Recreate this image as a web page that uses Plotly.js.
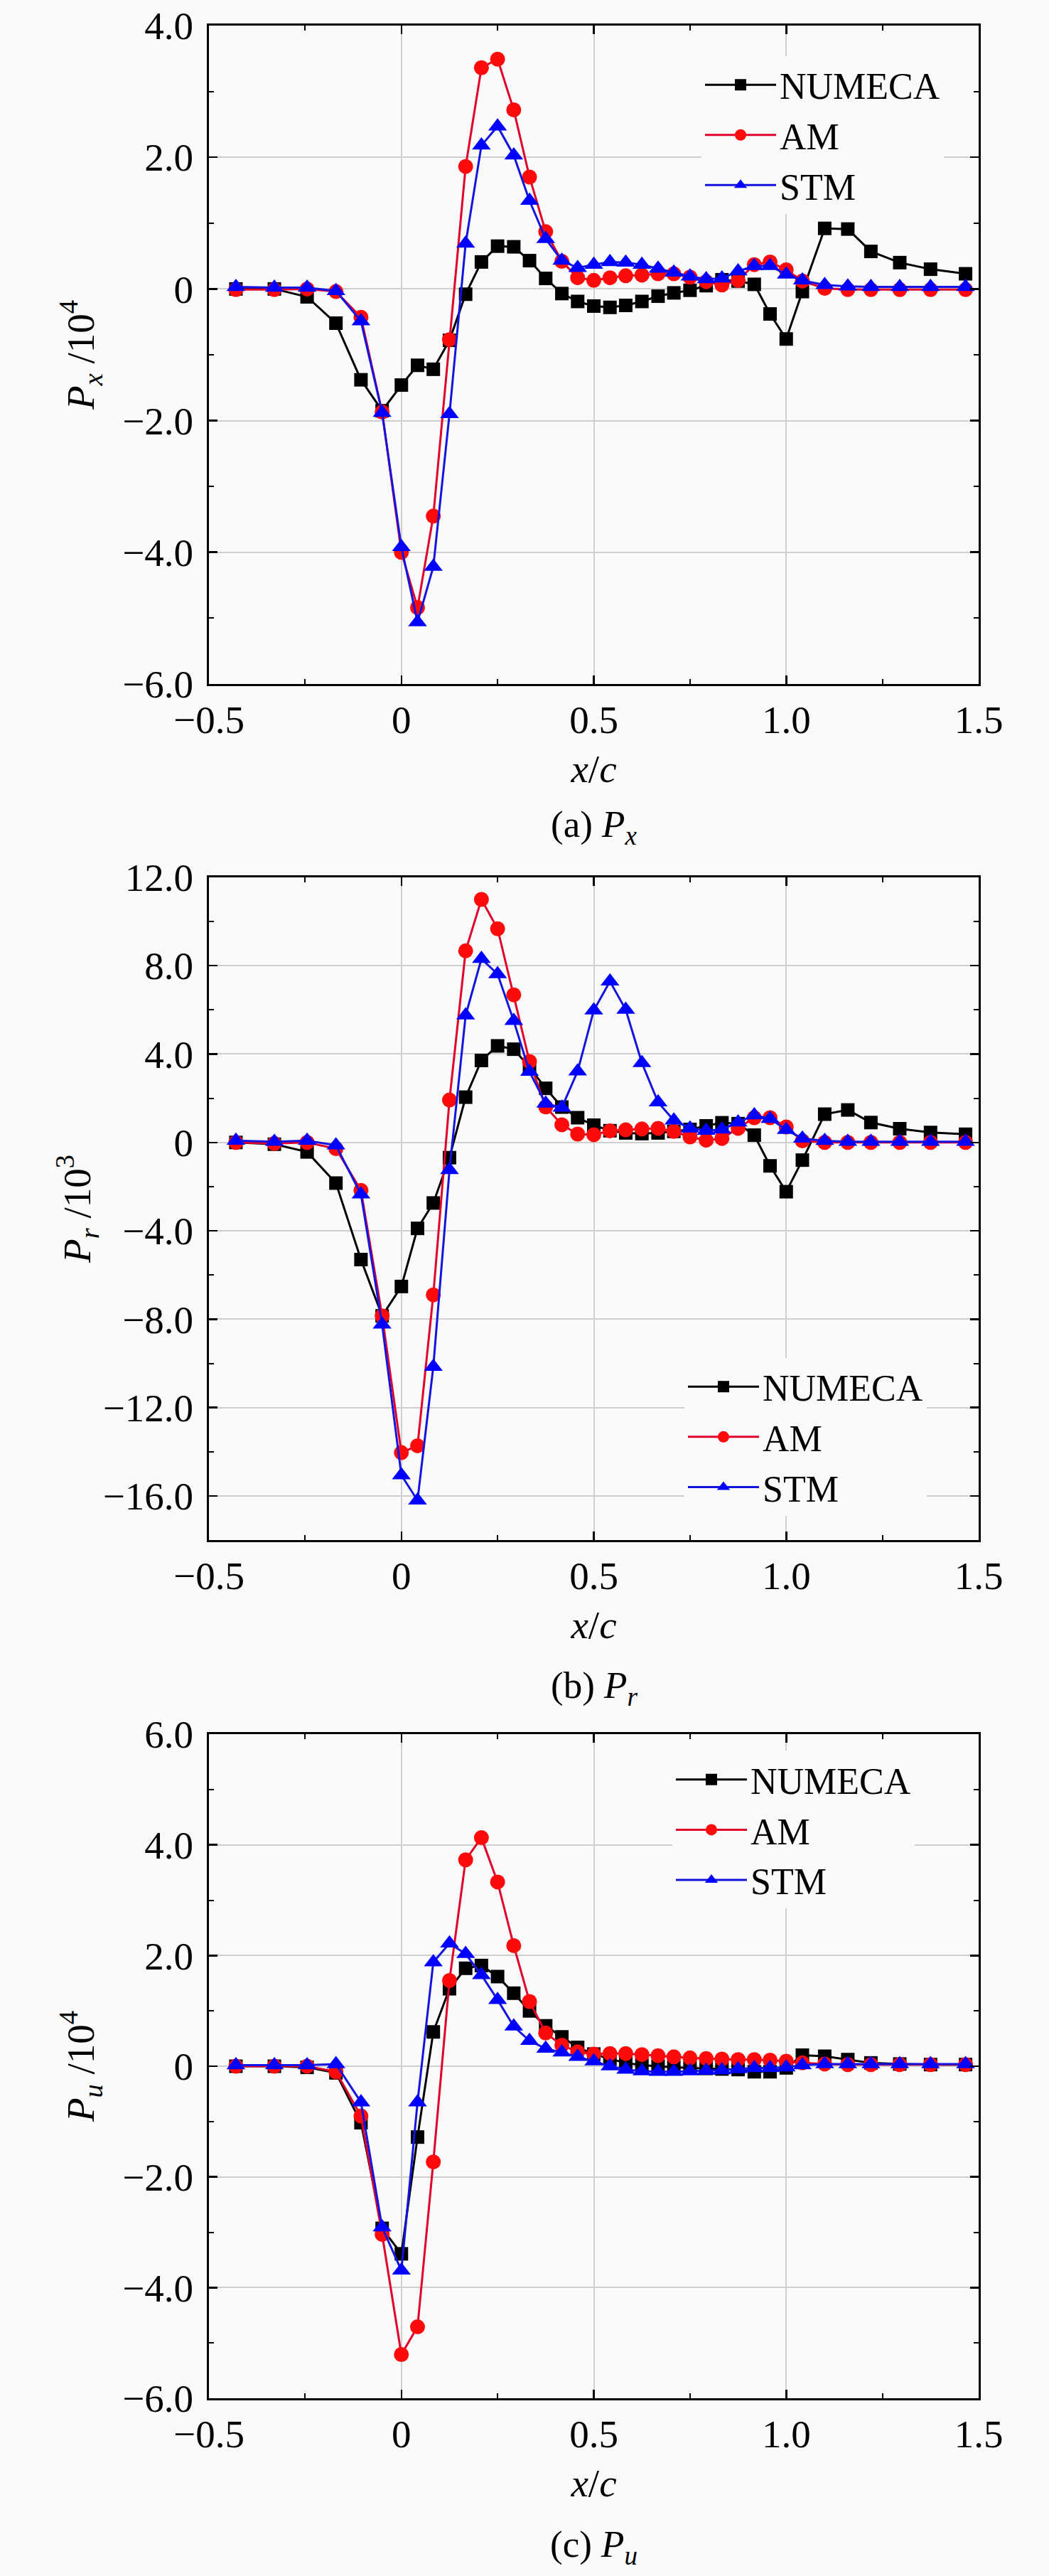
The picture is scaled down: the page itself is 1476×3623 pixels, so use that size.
<!DOCTYPE html>
<html>
<head>
<meta charset="utf-8">
<script src="https://cdn.plot.ly/plotly-3.0.1.min.js"></script>
<style>
  body { margin: 0; background: #fafafa; }
  #chart { width: 1476px; height: 3623px; }
</style>
</head>
<body>
<div id="chart"></div>
<script>
// x/c stations shared by all curves
const xc = [-0.43, -0.33, -0.245, -0.17, -0.105, -0.05, 0, 0.042, 0.083, 0.125, 0.167, 0.208,
  0.25, 0.292, 0.333, 0.375, 0.417, 0.458, 0.5, 0.542, 0.583, 0.625, 0.667, 0.708, 0.75,
  0.792, 0.833, 0.875, 0.917, 0.958, 1.0, 1.042, 1.1, 1.16, 1.22, 1.295, 1.375, 1.466];

// (a) Px / 10^4
const pxNumeca = [0, 0, -0.12, -0.52, -1.38, -1.85, -1.46, -1.16, -1.22, -0.78, -0.08, 0.41,
  0.65, 0.64, 0.43, 0.16, -0.07, -0.19, -0.26, -0.28, -0.25, -0.19, -0.11, -0.06, -0.02,
  0.05, 0.14, 0.12, 0.07, -0.38, -0.76, -0.04, 0.92, 0.91, 0.57, 0.40, 0.30, 0.23];
const pxAM = [-0.01, -0.01, 0, -0.04, -0.43, -1.87, -4.0, -4.84, -3.45, -0.77, 1.86, 3.36,
  3.49, 2.72, 1.70, 0.87, 0.42, 0.17, 0.13, 0.17, 0.20, 0.21, 0.23, 0.23, 0.18,
  0.11, 0.06, 0.13, 0.37, 0.41, 0.29, 0.12, 0.01, -0.01, -0.01, -0.01, -0.01, -0.01];
const pxSTM = [0.03, 0.02, 0.02, -0.03, -0.49, -1.88, -3.92, -5.06, -4.22, -1.90, 0.69, 2.18,
  2.47, 2.03, 1.34, 0.76, 0.43, 0.32, 0.37, 0.41, 0.40, 0.37, 0.31, 0.25, 0.19,
  0.15, 0.16, 0.27, 0.35, 0.35, 0.22, 0.13, 0.06, 0.04, 0.03, 0.03, 0.03, 0.03];

// (b) Pr / 10^3
const prNumeca = [0, -0.08, -0.43, -1.84, -5.3, -7.85, -6.52, -3.89, -2.74, -0.69, 2.05, 3.71,
  4.37, 4.22, 3.4, 2.45, 1.6, 1.12, 0.78, 0.53, 0.43, 0.40, 0.43, 0.5, 0.59,
  0.75, 0.89, 0.85, 0.33, -1.06, -2.23, -0.8, 1.28, 1.47, 0.9, 0.62, 0.45, 0.37];
const prAM = [0, -0.05, 0, -0.28, -2.17, -7.85, -14.04, -13.73, -6.9, 1.92, 8.67, 11.0,
  9.67, 6.68, 3.66, 1.61, 0.80, 0.38, 0.35, 0.52, 0.57, 0.61, 0.64, 0.50, 0.25,
  0.10, 0.18, 0.64, 1.12, 1.12, 0.70, 0.07, 0, 0, 0, 0, 0, 0];
const prSTM = [0.08, 0.03, 0.08, -0.13, -2.35, -8.24, -15.06, -16.2, -10.15, -1.25, 5.75, 8.31,
  7.62, 5.5, 3.2, 1.76, 1.58, 3.22, 5.98, 7.29, 6.01, 3.6, 1.82, 1.0, 0.64,
  0.53, 0.59, 0.91, 1.23, 1.07, 0.57, 0.18, 0.07, 0.03, 0.03, 0.03, 0.03, 0.03];

// (c) Pu / 10^4
const puNumeca = [0, 0, -0.02, -0.12, -1.02, -2.93, -3.39, -1.28, 0.62, 1.40, 1.77, 1.82,
  1.62, 1.32, 1.0, 0.73, 0.53, 0.34, 0.22, 0.13, 0.06, 0.02, 0, -0.02, -0.03,
  -0.04, -0.05, -0.06, -0.1, -0.1, -0.03, 0.2, 0.18, 0.12, 0.06, 0.04, 0.03, 0.03];
const puAM = [0, 0, 0, -0.1, -0.9, -3.04, -5.21, -4.71, -1.73, 1.55, 3.73, 4.13,
  3.33, 2.18, 1.17, 0.6, 0.38, 0.26, 0.22, 0.23, 0.23, 0.21, 0.19, 0.17, 0.15,
  0.14, 0.13, 0.12, 0.12, 0.11, 0.09, 0.06, 0.04, 0.03, 0.03, 0.03, 0.03, 0.03];
const puSTM = [0.02, 0.02, 0.02, 0.04, -0.65, -2.91, -3.69, -0.65, 1.88, 2.22, 2.03, 1.65,
  1.2, 0.72, 0.46, 0.32, 0.25, 0.17, 0.09, 0, -0.06, -0.09, -0.1, -0.1, -0.09,
  -0.08, -0.07, -0.05, -0.03, -0.03, -0.02, 0.02, 0.04, 0.04, 0.04, 0.04, 0.04, 0.04];

const seriesNames = ['NUMECA', 'AM', 'STM'];

// tick labels
const xTickVals = [-0.5, 0, 0.5, 1.0, 1.5];
const xTickText = ['\u22120.5', '0', '0.5', '1.0', '1.5'];
const yaTickVals = [-6, -4, -2, 0, 2, 4];
const yaTickText = ['\u22126.0', '\u22124.0', '\u22122.0', '0', '2.0', '4.0'];
const ybTickVals = [-16, -12, -8, -4, 0, 4, 8, 12];
const ybTickText = ['\u221216.0', '\u221212.0', '\u22128.0', '\u22124.0', '0', '4.0', '8.0', '12.0'];
const ycTickVals = [-6, -4, -2, 0, 2, 4, 6];
const ycTickText = ['\u22126.0', '\u22124.0', '\u22122.0', '0', '2.0', '4.0', '6.0'];

const FONT = 'Liberation Serif, Times New Roman, serif';
const BG = '#fafafa';

const styles = [
  { line: { color: '#000000', width: 3 }, marker: { symbol: 'square', size: 19, color: '#000000' } },
  { line: { color: '#e0002a', width: 3 }, marker: { symbol: 'circle', size: 21, color: '#ff0a0a' } },
  { line: { color: '#1414e0', width: 3 }, marker: { symbol: 'triangle-up', size: 23, color: '#0000ff' } }
];

function panelTraces(ys, xa, ya, legend) {
  return ys.map((y, i) => ({
    x: xc, y: y, name: seriesNames[i], type: 'scatter', mode: 'lines+markers',
    xaxis: xa, yaxis: ya, legend: legend,
    line: styles[i].line, marker: styles[i].marker
  }));
}

const traces = [
  ...panelTraces([pxNumeca, pxAM, pxSTM], 'x', 'y', 'legend'),
  ...panelTraces([prNumeca, prAM, prSTM], 'x2', 'y2', 'legend2'),
  ...panelTraces([puNumeca, puAM, puSTM], 'x3', 'y3', 'legend3')
];

function axisBase() {
  return {
    showline: true, linecolor: '#000', linewidth: 3, mirror: 'allticks',
    ticks: 'inside', ticklen: 12, tickwidth: 2.5, tickcolor: '#000',
    showgrid: true, gridcolor: '#cfcfcf', gridwidth: 2, zeroline: false,
    tickfont: { family: FONT, size: 55, color: '#000' },
    ticklabeloverflow: 'allow',
    tickmode: 'array', fixedrange: true
  };
}

function xAxis(anchor) {
  return Object.assign(axisBase(), {
    anchor: anchor, range: [-0.5, 1.5], tickvals: xTickVals, ticktext: xTickText,
    minor: { tickmode: 'linear', tick0: 0, dtick: 0.25, ticks: 'inside', ticklen: 7, tickwidth: 2, tickcolor: '#000', showgrid: false },
    title: { text: '<i>x</i>/<i>c</i>', font: { family: FONT, size: 55, color: '#000' }, standoff: 20 }
  });
}

function yAxis(anchor, domain, range, vals, text, minorStep, title, standoff) {
  return Object.assign(axisBase(), {
    anchor: anchor, domain: domain, range: range, tickvals: vals, ticktext: text,
    ticklabelstandoff: 8,
    minor: { tickmode: 'linear', tick0: 0, dtick: minorStep, ticks: 'inside', ticklen: 7, tickwidth: 2, tickcolor: '#000', showgrid: false },
    title: { text: title, font: { family: FONT, size: 55, color: '#000' }, standoff: standoff }
  });
}

function legendBox(x, y) {
  return {
    x: x, y: y, xanchor: 'left', yanchor: 'top', bgcolor: BG, borderwidth: 0,
    itemwidth: 100,
    font: { family: FONT, size: 52, color: '#000' }, tracegroupgap: 0
  };
}

const caption = (text, y) => ({
  text: text, xref: 'paper', yref: 'paper', x: 0.5, y: y, xanchor: 'center', yanchor: 'middle',
  showarrow: false, font: { family: FONT, size: 53, color: '#000' }
});

const layout = {
  width: 1476, height: 3623,
  margin: { l: 294, r: 99, t: 28, b: 250 },
  paper_bgcolor: BG, plot_bgcolor: BG,
  font: { family: FONT, color: '#000' },
  xaxis: xAxis('y'),
  xaxis2: xAxis('y2'),
  xaxis3: xAxis('y3'),
  yaxis: yAxis('x', [0.7208, 0.9976], [-6, 4], yaTickVals, yaTickText, 1,
    '<i>P</i><sub><i>x</i></sub> /10<sup>4</sup>', 22),
  yaxis2: yAxis('x2', [0.3608, 0.6395], [-18, 12], ybTickVals, ybTickText, 2,
    '<i>P</i><sub><i>r</i></sub> /10<sup>3</sup>', 0),
  yaxis3: yAxis('x3', [0, 0.2792], [-6, 6], ycTickVals, ycTickText, 1,
    '<i>P</i><sub><i>u</i></sub> /10<sup>4</sup>', 22),
  legend: legendBox(0.6399, 0.9848),
  legend2: legendBox(0.6177, 0.4374),
  legend3: legendBox(0.6020, 0.2722),
  annotations: [
    caption('(a) <i>P</i><sub><i>x</i></sub>', 0.6607),
    caption('(b) <i>P</i><sub><i>r</i></sub>', 0.2987),
    caption('(c) <i>P</i><sub><i>u</i></sub>', -0.0625)
  ]
};

Plotly.newPlot('chart', traces, layout, { displayModeBar: false, staticPlot: true });
</script>
</body>
</html>
